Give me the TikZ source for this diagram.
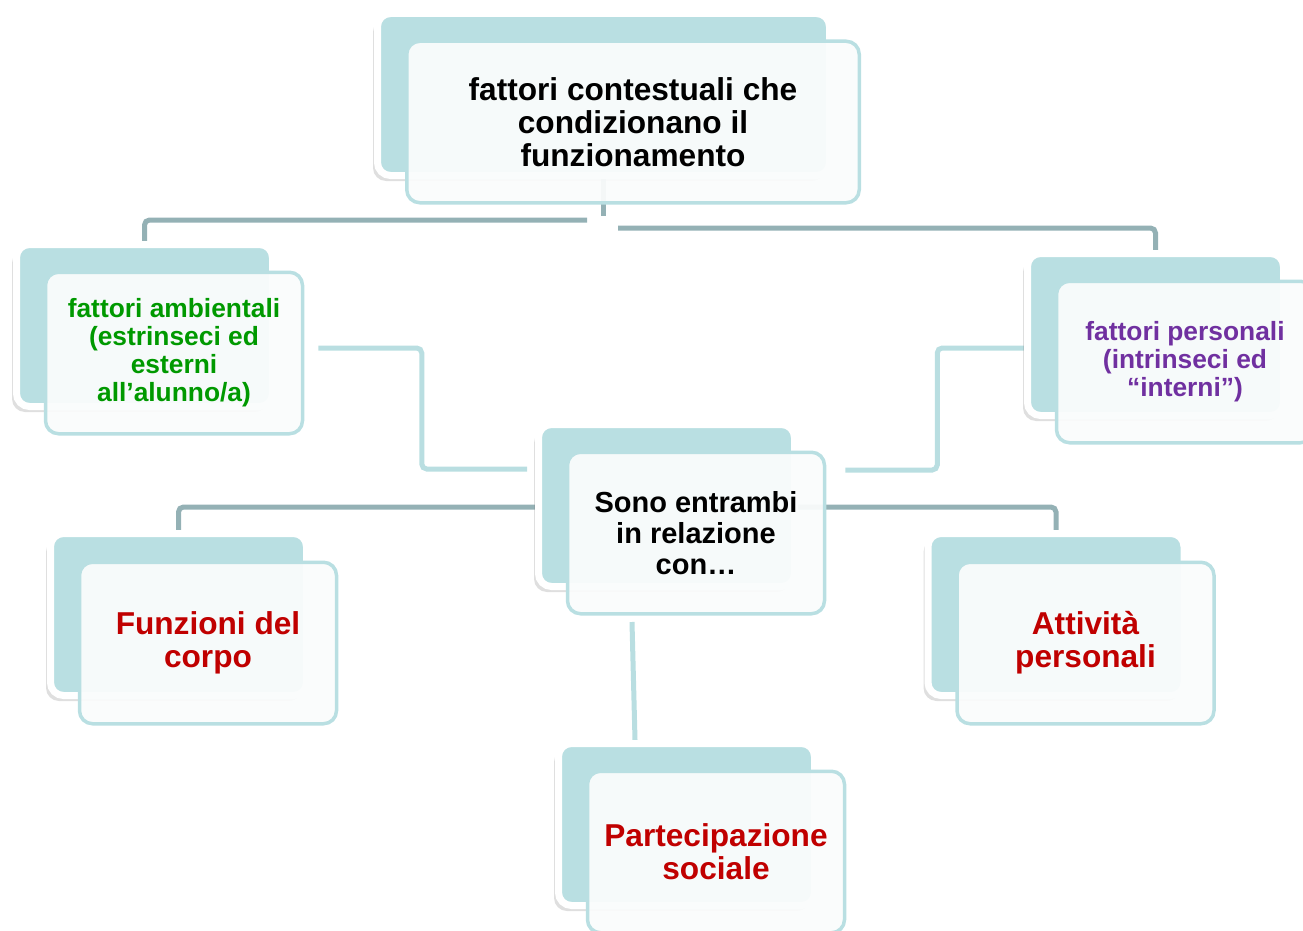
\documentclass[tikz,border=0pt]{standalone}
\usepackage{fontspec}
\setmainfont{Liberation Sans}
\usepackage{tikz}
\usetikzlibrary{positioning, shadows, backgrounds}

\definecolor{boxteal}{RGB}{185,223,226}
\definecolor{frontfill}{RGB}{250,252,252}
\definecolor{darkline}{RGB}{148,177,181}
\definecolor{lightline}{RGB}{185,222,225}
\definecolor{ambgreen}{RGB}{0,153,0}
\definecolor{perspurple}{RGB}{112,48,160}
\definecolor{compred}{RGB}{192,0,0}

\begin{document}
\begin{tikzpicture}[
    backbox/.style={rounded corners=0.26cm, fill=boxteal, draw=white, line width=0.14cm,
        minimum width=5.12cm, minimum height=3.24cm,
        drop shadow={shadow xshift=-0.09cm, shadow yshift=-0.11cm, opacity=0.25}},
    frontbox/.style={rounded corners=0.26cm, draw=boxteal, line width=0.07cm,
        fill=frontfill, fill opacity=0.94, text opacity=1,
        minimum width=5.14cm, minimum height=3.23cm, align=center},
    darkconn/.style={draw=darkline, line width=0.1cm},
    lightconn/.style={draw=lightline, line width=0.1cm},
]

% fix the page size to the one of the reference picture
\useasboundingbox (0,0) rectangle (26.06,-18.62);

% top box: the filled card behind and the open card with the text in front
\node[backbox, minimum width=9.04cm] (ctxB) at (12.07,-1.89) {};
\node[frontbox, minimum width=9.05cm, font=\bfseries\fontsize{18}{18.8}\selectfont]
    (ctx) at ([shift={(0.59,-0.55)}]ctxB.center)
    {fattori contestuali che\\condizionano il\\funzionamento};

% left box with the environmental factors (green text)
\node[backbox] (ambB) at (2.89,-6.51) {};
\node[frontbox, text=ambgreen, font=\bfseries\fontsize{15}{15.9}\selectfont]
    (amb) at ([shift={(0.59,-0.55)}]ambB.center)
    {fattori ambientali\\(estrinseci ed\\esterni\\all’alunno/a)};

% right box with the personal factors (purple text), cut by the page edge
\node[backbox] (persB) at (23.11,-6.69) {};
\node[frontbox, text=perspurple, font=\bfseries\fontsize{15}{15.9}\selectfont]
    (pers) at ([shift={(0.59,-0.55)}]persB.center)
    {fattori personali\\(intrinseci ed\\“interni”)};

% middle box
\node[backbox] (relB) at (13.33,-10.11) {};
\node[frontbox, font=\bfseries\fontsize{16.5}{17.6}\selectfont]
    (rel) at ([shift={(0.59,-0.55)}]relB.center)
    {Sono entrambi\\in relazione\\con…};

% the three red boxes below
\node[backbox] (funB) at (3.57,-12.29) {};
\node[frontbox, text=compred, font=\bfseries\fontsize{18}{18.8}\selectfont]
    (fun) at ([shift={(0.59,-0.57)}]funB.center)
    {Funzioni del\\corpo};

\node[backbox] (attB) at (21.12,-12.29) {};
\node[frontbox, text=compred, font=\bfseries\fontsize{18}{18.8}\selectfont]
    (att) at ([shift={(0.59,-0.57)}]attB.center)
    {Attività\\personali};

\node[backbox] (parB) at (13.73,-16.49) {};
\node[frontbox, text=compred, font=\bfseries\fontsize{18}{18.8}\selectfont]
    (par) at ([shift={(0.59,-0.55)}]parB.center)
    {Partecipazione\\sociale};

% connectors go behind all the cards
\begin{scope}[on background layer]
    % short stub under the top box and the two branches to the factors
    \coordinate (jT) at ([yshift=-0.73cm]ctxB.south);
    \coordinate (jL) at (11.74,-4.40);
    \coordinate (jR) at (12.36,-4.56);
    \draw[darkconn] (ctxB.south) -- (jT);
    \draw[darkconn, rounded corners=0.1cm] (jL) -| (ambB.north);
    \draw[darkconn, rounded corners=0.1cm] (jR) -| (persB.north);

    % both factors lead into the middle box
    \draw[lightconn, rounded corners=0.1cm] ([shift={(0.28,0.1)}]amb.east) -- ++(2.07,0)
        |- ([shift={(-0.16,0.73)}]relB.west);
    \draw[lightconn, rounded corners=0.1cm] ([shift={(-0.57,0.28)}]pers.west) -- ++(-1.78,0)
        |- ([shift={(0.38,-0.39)}]rel.north east);

    % middle box to the three red boxes
    \draw[darkconn, rounded corners=0.1cm] ([yshift=-0.03cm]relB.west) -| (funB.north);
    \draw[darkconn, rounded corners=0.1cm] ([yshift=-0.03cm]relB.east) -| (attB.north);
    \draw[lightconn] ([shift={(-1.28,-0.13)}]rel.south) -- ([shift={(-1.03,0)}]parB.north);
\end{scope}

\end{tikzpicture}
\end{document}
